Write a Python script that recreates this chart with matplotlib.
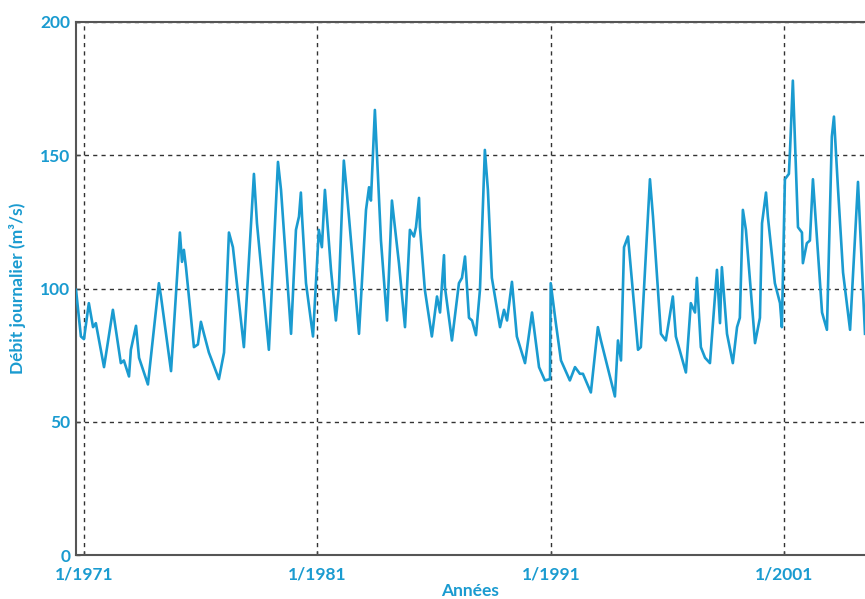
import matplotlib
matplotlib.use("Agg")
import matplotlib.pyplot as plt

# time (decimal years) and daily discharge (m3/s)
years = [
    1970.66, 1970.87, 1971.00, 1971.21, 1971.39, 1971.51, 1971.86, 1972.24,
    1972.58, 1972.71, 1972.93, 1973.01, 1973.23, 1973.36, 1973.74, 1974.21,
    1974.30, 1974.73, 1975.11, 1975.20, 1975.28, 1975.37, 1975.71, 1975.88,
    1976.01, 1976.14, 1976.35, 1976.78, 1977.00, 1977.21, 1977.38, 1977.85,
    1978.28, 1978.41, 1978.92, 1979.31, 1979.44, 1979.87, 1980.08, 1980.21,
    1980.29, 1980.34, 1980.51, 1980.81, 1981.06, 1981.19, 1981.32, 1981.58,
    1981.79, 1981.92, 1982.13, 1982.26, 1982.78, 1983.08, 1983.21, 1983.29,
    1983.46, 1983.72, 1983.98, 1984.19, 1984.49, 1984.75, 1984.96, 1985.13,
    1985.22, 1985.35, 1985.39, 1985.60, 1985.90, 1986.12, 1986.25, 1986.42,
    1986.46, 1986.76, 1987.06, 1987.19, 1987.32, 1987.49, 1987.62, 1987.79,
    1987.96, 1988.17, 1988.30, 1988.47, 1988.82, 1988.99, 1989.12, 1989.33,
    1989.54, 1989.89, 1990.19, 1990.49, 1990.74, 1990.96, 1990.99, 1991.21,
    1991.43, 1991.81, 1992.03, 1992.24, 1992.37, 1992.71, 1993.01, 1993.14,
    1993.74, 1993.87, 1994.00, 1994.13, 1994.30, 1994.73, 1994.85, 1995.24,
    1995.37, 1995.71, 1995.92, 1996.22, 1996.35, 1996.78, 1996.99, 1997.17,
    1997.25, 1997.42, 1997.60, 1997.81, 1998.11, 1998.24, 1998.32, 1998.54,
    1998.79, 1998.97, 1999.09, 1999.22, 1999.35, 1999.74, 1999.95, 2000.04,
    2000.21, 2000.29, 2000.59, 2000.81, 2000.89, 2001.02, 2001.19, 2001.24,
    2001.36, 2001.58, 2001.75, 2001.79, 2001.96, 2002.09, 2002.22, 2002.61,
    2002.82, 2003.03, 2003.12, 2003.29, 2003.51, 2003.81, 2004.15, 2004.45,
]
debit = [
    99.5, 82, 81, 94.5, 85.5, 87, 70.5, 92,
    72, 73, 67, 77, 86, 74, 64, 102,
    97, 69, 121, 110, 114.5, 108, 78, 79,
    87.5, 83, 76, 66, 76, 121, 115.5, 78,
    143, 124.5, 77, 147.5, 137, 83, 122, 127,
    136, 127, 102, 82, 122, 115.5, 137, 107,
    88, 100.5, 148, 136, 83, 129.5, 138, 133,
    167, 118, 88, 133, 109.5, 85.5, 122, 119.5,
    123, 134, 123, 99.5, 82, 97, 91, 112.5,
    100.5, 80.5, 102, 104, 112, 89, 88, 82.5,
    99.5, 152, 137, 104, 85.5, 92, 88, 102.5,
    82, 72, 91, 70.5, 65.5, 66, 102, 87,
    73, 65.5, 70.5, 68, 68, 61, 85.5, 80.5,
    59.5, 80.5, 73, 115.5, 119.5, 77, 78, 141,
    127, 83, 80.5, 97, 82, 68.5, 94.5, 91,
    104, 78, 74, 72, 107, 87, 108, 83,
    72, 85.5, 89, 129.5, 122, 79.5, 89, 124.5,
    136, 127, 102, 94.5, 85.5, 141, 143, 152,
    178, 123, 121, 109.5, 117, 118, 141, 91,
    84.5, 157, 164.5, 138, 106, 84.5, 140, 83,
]

tick_years = [1971, 1981, 1991, 2001]
tick_labels = ["1/1971", "1/1981", "1/1991", "1/2001"]
y_ticks = [0, 50, 100, 150, 200]

blue = "#1a9bd0"
plt.rcParams['font.family'] = ['Lato', 'DejaVu Sans']

fig = plt.figure(figsize=(8.65, 5.99), dpi=100)
ax = fig.add_axes([76 / 865, 44 / 599, 1 - 76 / 865, 533 / 599])

ax.plot(years, debit, color=blue, linewidth=1.9, zorder=3,
        solid_joinstyle="round")

ax.set_xlim(1970.66, 2004.45)
ax.set_ylim(0, 200)
ax.set_xticks(tick_years)
ax.set_xticklabels(tick_labels)
ax.set_yticks(y_ticks)

ax.grid(True, color="#333333", linestyle=(0, (3, 3)), linewidth=1.0)
ax.tick_params(direction="in", length=3, width=1, color="#444444",
               labelcolor=blue, labelsize=12.5)
ax.tick_params(axis="x", pad=8)
ax.tick_params(axis="y", pad=4)
for lab in ax.get_xticklabels() + ax.get_yticklabels():
    lab.set_fontweight("bold")

for s in ["left", "bottom", "top"]:
    ax.spines[s].set_color("#555555")
    ax.spines[s].set_linewidth(1.5)
ax.spines["right"].set_visible(False)

ax.set_ylabel("Débit journalier (m³/s)", color=blue, fontsize=12.5,
              fontweight="bold", labelpad=10)
ax.set_xlabel("Années", color=blue, fontsize=12.5, fontweight="bold",
              labelpad=1)

fig.savefig("out.png", dpi=100, facecolor="white")
